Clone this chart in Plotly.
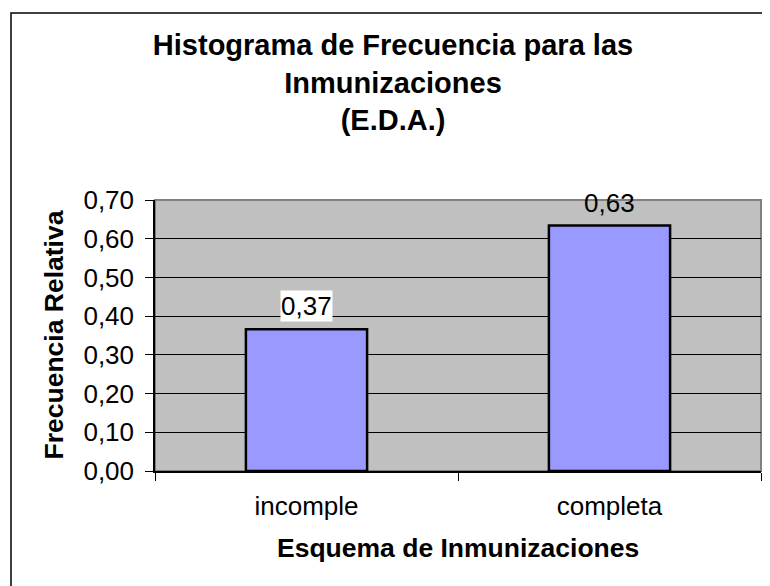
import plotly.graph_objects as go

# data
categories = ["incomple", "completa"]
rel_freq = [0.366, 0.634]
label_text = ["0,37", "0,63"]
y_ticks = [0.0, 0.1, 0.2, 0.3, 0.4, 0.5, 0.6, 0.7]

title_text = "Histograma de Frecuencia para las<br>Inmunizaciones<br>(E.D.A.)"
x_title = "Esquema de Inmunizaciones"
y_title = "Frecuencia Relativa"

# page body has an 8px margin, so the figure is a bit smaller than the window
W, H = 762, 578
ML, MR, MT, MB = 147, 9, 192, 115
PW, PH = W - ML - MR, H - MT - MB
FONT = "Liberation Sans, Arial, sans-serif"

fig = go.Figure()
fig.add_trace(go.Bar(
    x=categories,
    y=rel_freq,
    width=0.4,
    marker=dict(color="#9999FF", line=dict(color="black", width=2.5)),
    showlegend=False,
    hoverinfo="x+y",
))

# data labels (Excel-style, white box when inside the plot area)
for cat, val, txt in zip(categories, rel_freq, label_text):
    fig.add_annotation(
        x=cat, y=val, text=txt, showarrow=False,
        yanchor="bottom", yshift=7,
        font=dict(family=FONT, size=26, color="black"),
        bgcolor="white" if val < 0.6 else "rgba(0,0,0,0)",
        borderpad=0,
    )

# axis titles
fig.add_annotation(
    x=(45 - ML) / PW, y=0.5, xref="paper", yref="paper",
    text="<b>" + y_title + "</b>", textangle=-90, showarrow=False,
    xanchor="center", yanchor="middle",
    font=dict(family=FONT, size=26.5, color="black"),
)
fig.add_annotation(
    x=0.5, y=-(540 - (MT + PH)) / PH, xref="paper", yref="paper",
    text="<b>" + x_title + "</b>", showarrow=False,
    xanchor="center", yanchor="middle",
    font=dict(family=FONT, size=26.5, color="black"),
)

# outer chart border
fig.add_shape(
    type="rect", xref="paper", yref="paper", layer="below",
    x0=(3 - ML) / PW, x1=(W + 20 - ML) / PW,
    y0=-(H + 20 - MT - PH) / PH, y1=1 + (MT - 5) / PH,
    line=dict(color="black", width=1.5), fillcolor="rgba(0,0,0,0)",
)
# plot area border (grey top/right)
fig.add_shape(
    type="rect", xref="paper", yref="paper", layer="below",
    x0=0, x1=1, y0=0, y1=1,
    line=dict(color="#808080", width=2), fillcolor="#C0C0C0",
)

fig.update_layout(
    width=W, height=H,
    margin=dict(l=ML, r=MR, t=MT, b=MB),
    paper_bgcolor="white",
    plot_bgcolor="#C0C0C0",
    separators=",.",
    title=dict(
        text="<b>" + title_text + "</b>",
        x=385 / W, xanchor="center", xref="container",
        y=1 - 47 / H, yanchor="middle", yref="container",
        font=dict(family=FONT, size=29, color="black"),
    ),
    bargap=0.6,
)
fig.update_xaxes(
    type="category",
    showline=True, linecolor="black", linewidth=1.5,
    ticks="outside", ticklen=8, tickcolor="black", tickson="boundaries",
    tickfont=dict(family=FONT, size=26, color="black"),
    ticklabelstandoff=11,
    showgrid=False, zeroline=False,
)
fig.update_yaxes(
    range=[0, 0.7], tickvals=y_ticks, tickformat=".2f",
    showline=True, linecolor="black", linewidth=1.5,
    ticks="outside", ticklen=8, tickcolor="black",
    tickfont=dict(family=FONT, size=26, color="black"),
    ticklabelstandoff=6,
    showgrid=True, gridcolor="black", gridwidth=1,
    zeroline=False,
)

fig.write_html("out.html")
